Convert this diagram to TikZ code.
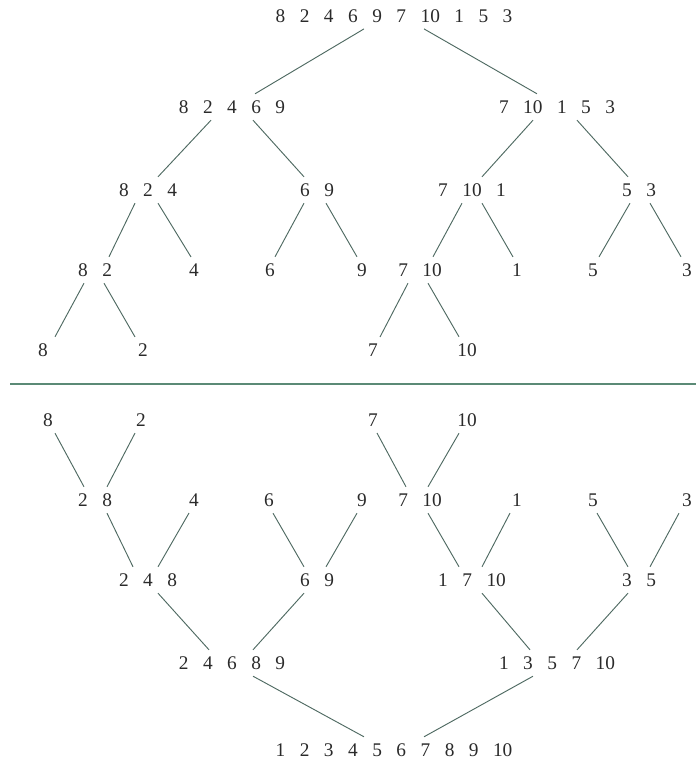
\documentclass[tikz,border=0pt]{standalone}
\usepackage{fontspec}
\setmainfont{Liberation Serif}
\usepackage{tikz}
\usetikzlibrary{calc}
\definecolor{ms-line}{HTML}{4F6A62}
\definecolor{ms-rule}{HTML}{5B8A76}
\definecolor{ms-text}{HTML}{2A2A2A}

\begin{document}
\begin{tikzpicture}[x=0.03cm, y=-0.03cm,
    num/.style={inner xsep=0pt, inner ysep=5.5pt, text=ms-text,
        font=\fontsize{16.5}{19}\selectfont,
        execute at begin node={\spaceskip=0.75em\relax}},
    link/.style={ms-line, line width=0.8pt},
    rule/.style={ms-rule, line width=1.6pt}]
    \useasboundingbox (0,0) rectangle (696,763);
    % splitting
    \foreach \n/\x/\y/\txt in {s0/394/15.7/8 2 4 6 9 7 10 1 5 3,
        s1a/232/107/8 2 4 6 9, s1b/557/107/7 10 1 5 3,
        s2a/148/190/8 2 4, s2b/317/190/6 9, s2c/472/190/7 10 1, s2d/639/190/5 3,
        s3a/95/270/8 2, s3b/194/270/4, s3c/270/270/6, s3d/362/270/9,
        s3e/420/270/7 10, s3f/517/270/1, s3g/593/270/5, s3h/687/270/3,
        s4a/43/350/8, s4b/143/350/2, s4c/373/350/7, s4d/467/350/10}
        \node[num] (\n) at (\x,\y) {\txt};
    % merging
    \foreach \n/\x/\y/\txt in {m0a/48/420/8, m0b/141/420/2, m0c/373/420/7, m0d/467/420/10,
        m1a/95/500/2 8, m1b/194/500/4, m1c/269/500/6, m1d/362/500/9,
        m1e/420/500/7 10, m1f/517/500/1, m1g/593/500/5, m1h/687/500/3,
        m2a/148/580/2 4 8, m2b/317/580/6 9, m2c/472/580/1 7 10, m2d/639/580/3 5,
        m3a/232/663/2 4 6 8 9, m3b/557/663/1 3 5 7 10,
        m4/394/750/1 2 3 4 5 6 7 8 9 10}
        \node[num] (\n) at (\x,\y) {\txt};
    \foreach \a/\da/\b/\db in {s0/-30/s1a/23, s0/30/s1b/-20,
        s1a/-21/s2a/10, s1a/21/s2b/-13, s1b/-24/s2c/10, s1b/20/s2d/-11,
        s2a/-13/s3a/14, s2a/10/s3b/-3, s2b/-13/s3c/5, s2b/9/s3d/-5,
        s2c/-10/s3e/13, s2c/10/s3f/-4, s2d/-9/s3g/6, s2d/11/s3h/-6,
        s3a/-11/s4a/12, s3a/9/s4b/-8, s3e/-12/s4c/7, s3e/8/s4d/-8,
        m0a/7/m1a/-11, m0b/-6/m1a/12, m0c/4/m1e/-14, m0d/-8/m1e/8,
        m1a/12/m2a/-15, m1b/-5/m2a/10, m1c/4/m2b/-13, m1d/-5/m2b/9,
        m1e/8/m2c/-13, m1f/-7/m2c/10, m1g/4/m2d/-11, m1h/-8/m2d/11,
        m2a/10/m3a/-23, m2b/-13/m3a/21, m2c/10/m3b/-27, m2d/-11/m3b/20,
        m3a/21/m4/-30, m3b/-24/m4/30}
        \draw[link] ($(\a.south)+(\da,0)$) -- ($(\b.north)+(\db,0)$);
    \draw[rule] (10,384) -- (696,384);
\end{tikzpicture}
\end{document}
